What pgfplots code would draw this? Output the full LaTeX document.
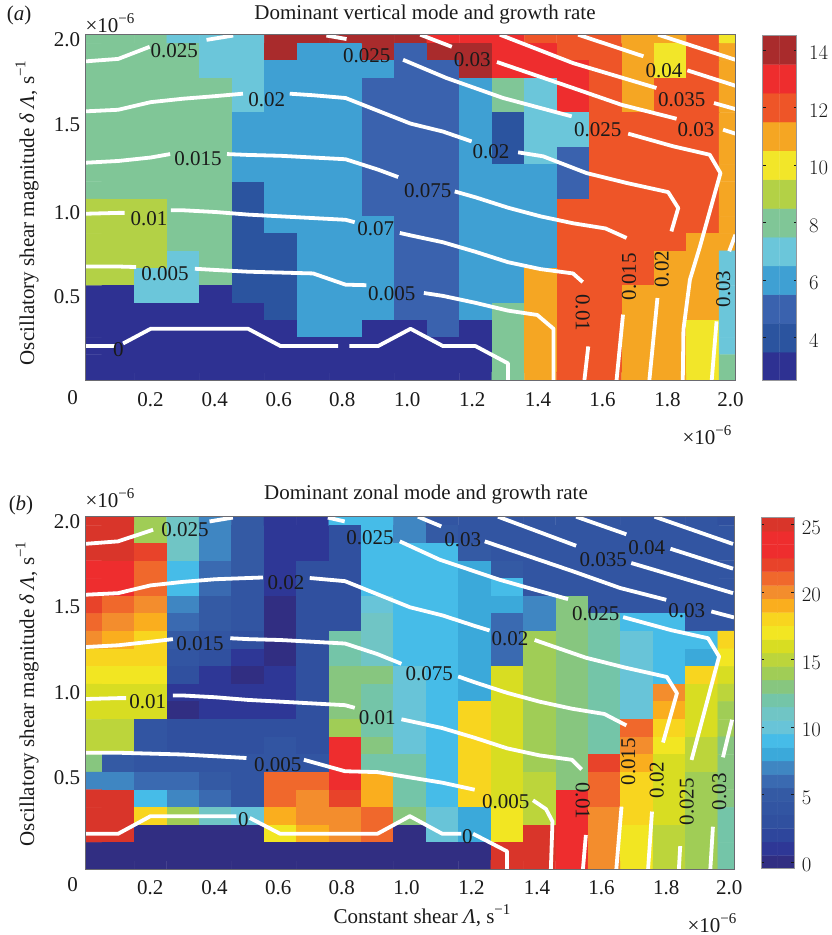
\documentclass[border=0pt]{standalone}
\usepackage{fontspec}
\setmainfont{Liberation Serif}
\usepackage{pgfplots}
\pgfplotsset{compat=1.18}
\newcommand\upp[1]{\raisebox{.42em}{\fontsize{15}{15}\selectfont #1}}
\newcommand\fs{\fontsize{21}{25}\selectfont}
\definecolor{txt}{HTML}{1A1A1A}
\definecolor{frm}{HTML}{6A6A70}
\pgfplotsset{
 colormap={mapa}{rgb255=(46,49,146) rgb255=(43,84,159) rgb255=(58,98,174) rgb255=(63,160,211) rgb255=(107,198,218) rgb255=(128,198,151) rgb255=(179,209,70) rgb255=(242,230,41) rgb255=(245,166,35) rgb255=(238,85,40) rgb255=(238,45,46) rgb255=(169,43,44)},
 colormap={mapb}{rgb255=(49,46,130) rgb255=(46,55,150) rgb255=(46,70,156) rgb255=(48,80,159) rgb255=(50,85,162) rgb255=(52,90,164) rgb255=(58,106,177) rgb255=(63,134,194) rgb255=(59,169,218) rgb255=(70,188,232) rgb255=(104,196,216) rgb255=(112,197,197) rgb255=(116,197,168) rgb255=(135,198,127) rgb255=(160,205,86) rgb255=(188,213,59) rgb255=(216,221,34) rgb255=(242,230,34) rgb255=(248,213,31) rgb255=(250,174,30) rgb255=(243,141,45) rgb255=(240,104,44) rgb255=(232,67,42) rgb255=(238,45,46) rgb255=(238,45,46) rgb255=(217,53,42)},
 cline/.style={white,line width=3.8pt,line join=round,forget plot,no markers},
 heat/.style={matrix plot*,point meta=explicit,mesh/ordering=y varies,mesh/rows=21,mesh/cols=21,forget plot},
 main/.style={scale only axis,xmin=0,xmax=2,ymin=0,ymax=2,axis on top,enlargelimits=false,
  axis line style={draw=frm,line width=.8pt},major tick length=0pt,colormap access=direct,
  tick label style={font=\fs,text=txt},
  xticklabel style={yshift=-8pt},yticklabel style={xshift=-2pt},
  xtick={.1995,.397,.594,.79,.99,1.19,1.392,1.591,1.791,1.985},
  xticklabels={0.2,0.4,0.6,0.8,1.0,1.2,1.4,1.6,1.8,2.0}},
 cbar/.style={scale only axis,xmin=0,xmax=1,axis on top,enlargelimits=false,
  axis line style={draw=frm!70,line width=1pt},xtick=\empty,ticklabel pos=right,
  tick style={draw=txt,line width=.8pt},major tick length=3pt,colormap access=direct,
  yticklabel style={font=\fs,text=txt,anchor=west,yshift=-3pt}}
}
\begin{document}
\begin{tikzpicture}
\path[use as bounding box] (0,0) rectangle (831pt,935pt);
% ---------------- panel a
\begin{axis}[main,colormap name=mapa,at={(85.7pt,554.3pt)},anchor=south west,width=649.7pt,height=346pt,
 ytick={1.971,1.48,.973,.487},yticklabels={2.0,1.5,1.0,0.5}]
\addplot[heat] coordinates {
(0,2)[5](0,1.9)[5](0,1.8)[5](0,1.7)[5](0,1.6)[5](0,1.5)[5](0,1.4)[5](0,1.3)[5](0,1.2)[5](0,1.1)[5](0,1)[6](0,.9)[6](0,.8)[6](0,.7)[6](0,.6)[6](0,.5)[0](0,.4)[0](0,.3)[0](0,.2)[0](0,.1)[0](0,0)[0]
(.1,2)[5](.1,1.9)[5](.1,1.8)[5](.1,1.7)[5](.1,1.6)[5](.1,1.5)[5](.1,1.4)[5](.1,1.3)[5](.1,1.2)[5](.1,1.1)[5](.1,1)[6](.1,.9)[6](.1,.8)[6](.1,.7)[6](.1,.6)[6](.1,.5)[0](.1,.4)[0](.1,.3)[0](.1,.2)[0](.1,.1)[0](.1,0)[0]
(.2,2)[5](.2,1.9)[5](.2,1.8)[5](.2,1.7)[5](.2,1.6)[5](.2,1.5)[5](.2,1.4)[5](.2,1.3)[5](.2,1.2)[5](.2,1.1)[5](.2,1)[6](.2,.9)[6](.2,.8)[6](.2,.7)[6](.2,.6)[4](.2,.5)[4](.2,.4)[0](.2,.3)[0](.2,.2)[0](.2,.1)[0](.2,0)[0]
(.3,2)[4](.3,1.9)[5](.3,1.8)[5](.3,1.7)[5](.3,1.6)[5](.3,1.5)[5](.3,1.4)[5](.3,1.3)[5](.3,1.2)[5](.3,1.1)[5](.3,1)[5](.3,.9)[5](.3,.8)[5](.3,.7)[4](.3,.6)[4](.3,.5)[4](.3,.4)[0](.3,.3)[0](.3,.2)[0](.3,.1)[0](.3,0)[0]
(.4,2)[4](.4,1.9)[4](.4,1.8)[4](.4,1.7)[5](.4,1.6)[5](.4,1.5)[5](.4,1.4)[5](.4,1.3)[5](.4,1.2)[5](.4,1.1)[5](.4,1)[5](.4,.9)[5](.4,.8)[5](.4,.7)[5](.4,.6)[5](.4,.5)[0](.4,.4)[0](.4,.3)[0](.4,.2)[0](.4,.1)[0](.4,0)[0]
(.5,2)[4](.5,1.9)[4](.5,1.8)[4](.5,1.7)[4](.5,1.6)[4](.5,1.5)[3](.5,1.4)[3](.5,1.3)[3](.5,1.2)[3](.5,1.1)[1](.5,1)[1](.5,.9)[1](.5,.8)[1](.5,.7)[1](.5,.6)[1](.5,.5)[1](.5,.4)[0](.5,.3)[0](.5,.2)[0](.5,.1)[0](.5,0)[0]
(.6,2)[11](.6,1.9)[11](.6,1.8)[3](.6,1.7)[3](.6,1.6)[3](.6,1.5)[3](.6,1.4)[3](.6,1.3)[3](.6,1.2)[3](.6,1.1)[3](.6,1)[3](.6,.9)[3](.6,.8)[1](.6,.7)[1](.6,.6)[1](.6,.5)[1](.6,.4)[1](.6,.3)[0](.6,.2)[0](.6,.1)[0](.6,0)[0]
(.7,2)[11](.7,1.9)[3](.7,1.8)[3](.7,1.7)[3](.7,1.6)[3](.7,1.5)[3](.7,1.4)[3](.7,1.3)[3](.7,1.2)[3](.7,1.1)[3](.7,1)[3](.7,.9)[3](.7,.8)[3](.7,.7)[3](.7,.6)[3](.7,.5)[3](.7,.4)[3](.7,.3)[3](.7,.2)[0](.7,.1)[0](.7,0)[0]
(.8,2)[11](.8,1.9)[3](.8,1.8)[3](.8,1.7)[3](.8,1.6)[3](.8,1.5)[3](.8,1.4)[3](.8,1.3)[3](.8,1.2)[3](.8,1.1)[3](.8,1)[3](.8,.9)[3](.8,.8)[3](.8,.7)[3](.8,.6)[3](.8,.5)[3](.8,.4)[3](.8,.3)[3](.8,.2)[0](.8,.1)[0](.8,0)[0]
(.9,2)[11](.9,1.9)[11](.9,1.8)[3](.9,1.7)[2](.9,1.6)[2](.9,1.5)[2](.9,1.4)[2](.9,1.3)[2](.9,1.2)[2](.9,1.1)[2](.9,1)[2](.9,.9)[3](.9,.8)[3](.9,.7)[3](.9,.6)[3](.9,.5)[3](.9,.4)[3](.9,.3)[0](.9,.2)[0](.9,.1)[0](.9,0)[0]
(1,2)[11](1,1.9)[2](1,1.8)[2](1,1.7)[2](1,1.6)[2](1,1.5)[2](1,1.4)[2](1,1.3)[2](1,1.2)[2](1,1.1)[2](1,1)[2](1,.9)[2](1,.8)[2](1,.7)[2](1,.6)[2](1,.5)[2](1,.4)[2](1,.3)[0](1,.2)[0](1,.1)[0](1,0)[0]
(1.1,2)[10](1.1,1.9)[11](1.1,1.8)[2](1.1,1.7)[2](1.1,1.6)[2](1.1,1.5)[2](1.1,1.4)[2](1.1,1.3)[2](1.1,1.2)[2](1.1,1.1)[2](1.1,1)[2](1.1,.9)[2](1.1,.8)[2](1.1,.7)[2](1.1,.6)[2](1.1,.5)[2](1.1,.4)[2](1.1,.3)[2](1.1,.2)[0](1.1,.1)[0](1.1,0)[0]
(1.2,2)[10](1.2,1.9)[11](1.2,1.8)[11](1.2,1.7)[3](1.2,1.6)[3](1.2,1.5)[3](1.2,1.4)[3](1.2,1.3)[3](1.2,1.2)[3](1.2,1.1)[3](1.2,1)[3](1.2,.9)[3](1.2,.8)[3](1.2,.7)[3](1.2,.6)[3](1.2,.5)[3](1.2,.4)[3](1.2,.3)[0](1.2,.2)[0](1.2,.1)[0](1.2,0)[0]
(1.3,2)[10](1.3,1.9)[10](1.3,1.8)[10](1.3,1.7)[5](1.3,1.6)[5](1.3,1.5)[1](1.3,1.4)[1](1.3,1.3)[1](1.3,1.2)[3](1.3,1.1)[3](1.3,1)[3](1.3,.9)[3](1.3,.8)[3](1.3,.7)[3](1.3,.6)[3](1.3,.5)[3](1.3,.4)[5](1.3,.3)[5](1.3,.2)[5](1.3,.1)[5](1.3,0)[5]
(1.4,2)[9](1.4,1.9)[10](1.4,1.8)[10](1.4,1.7)[4](1.4,1.6)[4](1.4,1.5)[4](1.4,1.4)[4](1.4,1.3)[4](1.4,1.2)[3](1.4,1.1)[3](1.4,1)[3](1.4,.9)[3](1.4,.8)[3](1.4,.7)[3](1.4,.6)[8](1.4,.5)[8](1.4,.4)[8](1.4,.3)[8](1.4,.2)[8](1.4,.1)[8](1.4,0)[8]
(1.5,2)[9](1.5,1.9)[9](1.5,1.8)[10](1.5,1.7)[10](1.5,1.6)[10](1.5,1.5)[4](1.5,1.4)[4](1.5,1.3)[2](1.5,1.2)[2](1.5,1.1)[2](1.5,1)[9](1.5,.9)[9](1.5,.8)[9](1.5,.7)[9](1.5,.6)[9](1.5,.5)[9](1.5,.4)[9](1.5,.3)[9](1.5,.2)[9](1.5,.1)[9](1.5,0)[9]
(1.6,2)[9](1.6,1.9)[9](1.6,1.8)[9](1.6,1.7)[9](1.6,1.6)[9](1.6,1.5)[9](1.6,1.4)[9](1.6,1.3)[9](1.6,1.2)[9](1.6,1.1)[9](1.6,1)[9](1.6,.9)[9](1.6,.8)[9](1.6,.7)[9](1.6,.6)[9](1.6,.5)[9](1.6,.4)[9](1.6,.3)[9](1.6,.2)[9](1.6,.1)[9](1.6,0)[9]
(1.7,2)[8](1.7,1.9)[8](1.7,1.8)[8](1.7,1.7)[8](1.7,1.6)[8](1.7,1.5)[9](1.7,1.4)[9](1.7,1.3)[9](1.7,1.2)[9](1.7,1.1)[9](1.7,1)[9](1.7,.9)[9](1.7,.8)[9](1.7,.7)[9](1.7,.6)[9](1.7,.5)[8](1.7,.4)[8](1.7,.3)[8](1.7,.2)[8](1.7,.1)[8](1.7,0)[8]
(1.8,2)[8](1.8,1.9)[7](1.8,1.8)[7](1.8,1.7)[9](1.8,1.6)[9](1.8,1.5)[9](1.8,1.4)[9](1.8,1.3)[9](1.8,1.2)[9](1.8,1.1)[9](1.8,1)[9](1.8,.9)[9](1.8,.8)[9](1.8,.7)[8](1.8,.6)[8](1.8,.5)[8](1.8,.4)[8](1.8,.3)[8](1.8,.2)[8](1.8,.1)[8](1.8,0)[8]
(1.9,2)[9](1.9,1.9)[9](1.9,1.8)[9](1.9,1.7)[9](1.9,1.6)[9](1.9,1.5)[9](1.9,1.4)[9](1.9,1.3)[9](1.9,1.2)[9](1.9,1.1)[9](1.9,1)[9](1.9,.9)[9](1.9,.8)[8](1.9,.7)[8](1.9,.6)[8](1.9,.5)[8](1.9,.4)[8](1.9,.3)[7](1.9,.2)[7](1.9,.1)[7](1.9,0)[7]
(2,2)[7](2,1.9)[8](2,1.8)[8](2,1.7)[8](2,1.6)[8](2,1.5)[8](2,1.4)[8](2,1.3)[8](2,1.2)[8](2,1.1)[8](2,1)[8](2,.9)[8](2,.8)[8](2,.7)[4](2,.6)[4](2,.5)[4](2,.4)[4](2,.3)[4](2,.2)[4](2,.1)[5](2,0)[5]
};
\addplot[cline] coordinates {(0,.2)(.09,.2)};
\addplot[cline] coordinates {(.115,.215)(.2,.3)(.5,.3)(.6,.2)(.777,.2)};
\addplot[cline] coordinates {(.812,.2)(.9,.2)(1,.3)(1.1,.2)(1.2,.2)(1.3,.1)(1.3,0)};
\addplot[cline] coordinates {(0,.66)(.1,.66)(.155,.657)};
\addplot[cline] coordinates {(.336,.647)(.4,.64)(.5,.63)(.6,.625)(.7,.62)(.8,.555)(.864,.552)};
\addplot[cline] coordinates {(1.041,.507)(1.1,.49)(1.2,.45)(1.3,.405)(1.39,.38)(1.44,.3)(1.44,0)};
\addplot[cline] coordinates {(0,.965)(.1,.97)(.12,.97)};
\addplot[cline] coordinates {(.262,.985)(.3,.985)(.4,.975)(.5,.96)(.6,.95)(.7,.94)(.8,.93)(.828,.916)};
\addplot[cline] coordinates {(.967,.854)(1,.84)(1.1,.8)(1.2,.745)(1.3,.685)(1.4,.645)(1.5,.62)(1.53,.57)};
\addplot[cline] coordinates {(1.547,.198)(1.535,0)};
\addplot[cline] coordinates {(0,1.26)(.1,1.27)(.2,1.29)(.26,1.31)};
\addplot[cline] coordinates {(.435,1.31)(.5,1.305)(.6,1.3)(.7,1.29)(.8,1.28)(.9,1.22)(.962,1.177)};
\addplot[cline] coordinates {(1.136,1.094)(1.2,1.06)(1.3,1)(1.4,.95)(1.5,.91)(1.6,.88)(1.665,.825)};
\addplot[cline] coordinates {(1.654,.382)(1.634,0)};
\addplot[cline] coordinates {(0,1.557)(.1,1.566)(.2,1.61)(.3,1.63)(.4,1.645)(.484,1.659)};
\addplot[cline] coordinates {(.628,1.659)(.7,1.65)(.8,1.634)(.9,1.56)(1,1.486)(1.1,1.44)(1.188,1.383)};
\addplot[cline] coordinates {(1.331,1.32)(1.408,1.297)(1.542,1.2)(1.665,1.143)(1.793,1.09)(1.824,.998)(1.803,.863)};
\addplot[cline] coordinates {(1.76,.478)(1.735,0)};
\addplot[cline] coordinates {(0,1.846)(.1,1.86)(.197,1.93)};
\addplot[cline] coordinates {(.372,1.97)(.454,1.995)};
\addplot[cline] coordinates {(.741,1.995)(.803,1.975)};
\addplot[cline] coordinates {(.977,1.855)(1.11,1.75)(1.285,1.634)(1.496,1.528)};
\addplot[cline] coordinates {(1.67,1.428)(1.808,1.355)(1.921,1.306)(1.954,1.2)(1.891,.776)(1.86,.584)(1.84,.295)(1.838,0)};
\addplot[cline] coordinates {(1.03,2)(1.127,1.93)};
\addplot[cline] coordinates {(1.266,1.842)(1.5,1.692)(1.649,1.595)(1.819,1.514)};
\addplot[cline] coordinates {(1.962,1.451)(2,1.428)};
\addplot[cline] coordinates {(2,.844)(1.981,.748)};
\addplot[cline] coordinates {(1.942,.343)(1.927,0)};
\addplot[cline] coordinates {(1.275,2)(1.5,1.836)(1.757,1.692)};
\addplot[cline] coordinates {(1.934,1.605)(2,1.57)};
\addplot[cline] coordinates {(1.516,2)(1.717,1.875)};
\addplot[cline] coordinates {(1.852,1.794)(2,1.705)};
\addplot[cline] coordinates {(1.762,2)(2,1.855)};
\end{axis}
\begin{axis}[cbar,colormap name=mapa,at={(762.7pt,554pt)},anchor=south west,width=34pt,height=345.3pt,
 ymin=2.5,ymax=14.5,ytick={4,6,8,10,12,14},yticklabel style={xshift=9pt}]
\addplot[matrix plot*,point meta=explicit,mesh/cols=2,forget plot] coordinates {
(0,3)[0](1,3)[0](0,4)[1](1,4)[1](0,5)[2](1,5)[2](0,6)[3](1,6)[3](0,7)[4](1,7)[4](0,8)[5](1,8)[5](0,9)[6](1,9)[6](0,10)[7](1,10)[7](0,11)[8](1,11)[8](0,12)[9](1,12)[9](0,13)[10](1,13)[10](0,14)[11](1,14)[11]};
\end{axis}
% ---------------- panel b
\begin{axis}[main,colormap name=mapb,at={(85.7pt,66pt)},anchor=south west,width=648.3pt,height=352.3pt,
 ytick={1.973,1.49,1,.517},yticklabels={2.0,1.5,1.0,0.5}]
\addplot[heat] coordinates {
(0,2)[25](0,1.9)[25](0,1.8)[25](0,1.7)[24](0,1.6)[24](0,1.5)[22](0,1.4)[21](0,1.3)[20](0,1.2)[18](0,1.1)[17](0,1)[16](0,.9)[16](0,.8)[15](0,.7)[15](0,.6)[13](0,.5)[7](0,.4)[25](0,.3)[25](0,.2)[25](0,.1)[0](0,0)[0]
(.1,2)[25](.1,1.9)[25](.1,1.8)[25](.1,1.7)[24](.1,1.6)[24](.1,1.5)[21](.1,1.4)[20](.1,1.3)[19](.1,1.2)[18](.1,1.1)[17](.1,1)[16](.1,.9)[16](.1,.8)[15](.1,.7)[15](.1,.6)[5](.1,.5)[7](.1,.4)[25](.1,.3)[25](.1,.2)[25](.1,.1)[0](.1,0)[0]
(.2,2)[14](.2,1.9)[14](.2,1.8)[22](.2,1.7)[21](.2,1.6)[21](.2,1.5)[20](.2,1.4)[19](.2,1.3)[18](.2,1.2)[18](.2,1.1)[17](.2,1)[16](.2,.9)[16](.2,.8)[4](.2,.7)[4](.2,.6)[4](.2,.5)[6](.2,.4)[9](.2,.3)[18](.2,.2)[0](.2,.1)[0](.2,0)[0]
(.3,2)[11](.3,1.9)[11](.3,1.8)[11](.3,1.7)[9](.3,1.6)[9](.3,1.5)[7](.3,1.4)[6](.3,1.3)[5](.3,1.2)[4](.3,1.1)[3](.3,1)[1](.3,.9)[0](.3,.8)[3](.3,.7)[3](.3,.6)[4](.3,.5)[6](.3,.4)[7](.3,.3)[14](.3,.2)[0](.3,.1)[0](.3,0)[0]
(.4,2)[7](.4,1.9)[7](.4,1.8)[7](.4,1.7)[6](.4,1.6)[6](.4,1.5)[5](.4,1.4)[5](.4,1.3)[4](.4,1.2)[3](.4,1.1)[1](.4,1)[1](.4,.9)[1](.4,.8)[3](.4,.7)[3](.4,.6)[4](.4,.5)[5](.4,.4)[6](.4,.3)[11](.4,.2)[0](.4,.1)[0](.4,0)[0]
(.5,2)[5](.5,1.9)[5](.5,1.8)[5](.5,1.7)[5](.5,1.6)[4](.5,1.5)[4](.5,1.4)[4](.5,1.3)[3](.5,1.2)[1](.5,1.1)[0](.5,1)[1](.5,.9)[1](.5,.8)[3](.5,.7)[3](.5,.6)[4](.5,.5)[4](.5,.4)[4](.5,.3)[10](.5,.2)[0](.5,.1)[0](.5,0)[0]
(.6,2)[1](.6,1.9)[1](.6,1.8)[1](.6,1.7)[1](.6,1.6)[1](.6,1.5)[0](.6,1.4)[0](.6,1.3)[0](.6,1.2)[0](.6,1.1)[1](.6,1)[1](.6,.9)[1](.6,.8)[3](.6,.7)[4](.6,.6)[4](.6,.5)[21](.6,.4)[21](.6,.3)[19](.6,.2)[17](.6,.1)[0](.6,0)[0]
(.7,2)[1](.7,1.9)[1](.7,1.8)[1](.7,1.7)[3](.7,1.6)[3](.7,1.5)[3](.7,1.4)[3](.7,1.3)[3](.7,1.2)[3](.7,1.1)[3](.7,1)[3](.7,.9)[3](.7,.8)[3](.7,.7)[3](.7,.6)[4](.7,.5)[21](.7,.4)[20](.7,.3)[20](.7,.2)[19](.7,.1)[0](.7,0)[0]
(.8,2)[9](.8,1.9)[3](.8,1.8)[3](.8,1.7)[3](.8,1.6)[3](.8,1.5)[3](.8,1.4)[3](.8,1.3)[12](.8,1.2)[12](.8,1.1)[13](.8,1)[13](.8,.9)[13](.8,.8)[14](.8,.7)[23](.8,.6)[23](.8,.5)[23](.8,.4)[22](.8,.3)[20](.8,.2)[20](.8,.1)[0](.8,0)[0]
(.9,2)[9](.9,1.9)[9](.9,1.8)[9](.9,1.7)[9](.9,1.6)[9](.9,1.5)[10](.9,1.4)[11](.9,1.3)[11](.9,1.2)[11](.9,1.1)[13](.9,1)[12](.9,.9)[12](.9,.8)[12](.9,.7)[13](.9,.6)[12](.9,.5)[19](.9,.4)[19](.9,.3)[21](.9,.2)[21](.9,.1)[0](.9,0)[0]
(1,2)[7](1,1.9)[7](1,1.8)[9](1,1.7)[9](1,1.6)[9](1,1.5)[9](1,1.4)[9](1,1.3)[9](1,1.2)[9](1,1.1)[10](1,1)[10](1,.9)[10](1,.8)[10](1,.7)[10](1,.6)[12](1,.5)[12](1,.4)[12](1,.3)[13](1,.2)[0](1,.1)[0](1,0)[0]
(1.1,2)[4](1.1,1.9)[5](1.1,1.8)[9](1.1,1.7)[9](1.1,1.6)[9](1.1,1.5)[9](1.1,1.4)[9](1.1,1.3)[9](1.1,1.2)[9](1.1,1.1)[9](1.1,1)[9](1.1,.9)[9](1.1,.8)[9](1.1,.7)[9](1.1,.6)[9](1.1,.5)[9](1.1,.4)[9](1.1,.3)[10](1.1,.2)[10](1.1,.1)[0](1.1,0)[0]
(1.2,2)[4](1.2,1.9)[4](1.2,1.8)[5](1.2,1.7)[8](1.2,1.6)[8](1.2,1.5)[8](1.2,1.4)[8](1.2,1.3)[8](1.2,1.2)[8](1.2,1.1)[8](1.2,1)[8](1.2,.9)[18](1.2,.8)[18](1.2,.7)[18](1.2,.6)[18](1.2,.5)[18](1.2,.4)[18](1.2,.3)[8](1.2,.2)[8](1.2,.1)[0](1.2,0)[0]
(1.3,2)[4](1.3,1.9)[4](1.3,1.8)[4](1.3,1.7)[5](1.3,1.6)[9](1.3,1.5)[8](1.3,1.4)[6](1.3,1.3)[6](1.3,1.2)[6](1.3,1.1)[16](1.3,1)[16](1.3,.9)[16](1.3,.8)[16](1.3,.7)[16](1.3,.6)[16](1.3,.5)[16](1.3,.4)[16](1.3,.3)[17](1.3,.2)[17](1.3,.1)[25](1.3,0)[25]
(1.4,2)[4](1.4,1.9)[4](1.4,1.8)[4](1.4,1.7)[4](1.4,1.6)[4](1.4,1.5)[7](1.4,1.4)[7](1.4,1.3)[14](1.4,1.2)[14](1.4,1.1)[14](1.4,1)[14](1.4,.9)[14](1.4,.8)[14](1.4,.7)[14](1.4,.6)[14](1.4,.5)[15](1.4,.4)[15](1.4,.3)[15](1.4,.2)[25](1.4,.1)[25](1.4,0)[25]
(1.5,2)[4](1.5,1.9)[4](1.5,1.8)[4](1.5,1.7)[4](1.5,1.6)[4](1.5,1.5)[13](1.5,1.4)[13](1.5,1.3)[13](1.5,1.2)[13](1.5,1.1)[13](1.5,1)[13](1.5,.9)[13](1.5,.8)[13](1.5,.7)[13](1.5,.6)[13](1.5,.5)[13](1.5,.4)[23](1.5,.3)[23](1.5,.2)[23](1.5,.1)[23](1.5,0)[23]
(1.6,2)[4](1.6,1.9)[4](1.6,1.8)[4](1.6,1.7)[4](1.6,1.6)[4](1.6,1.5)[4](1.6,1.4)[12](1.6,1.3)[12](1.6,1.2)[12](1.6,1.1)[12](1.6,1)[12](1.6,.9)[12](1.6,.8)[12](1.6,.7)[12](1.6,.6)[22](1.6,.5)[21](1.6,.4)[21](1.6,.3)[20](1.6,.2)[20](1.6,.1)[20](1.6,0)[20]
(1.7,2)[4](1.7,1.9)[4](1.7,1.8)[4](1.7,1.7)[4](1.7,1.6)[4](1.7,1.5)[4](1.7,1.4)[9](1.7,1.3)[10](1.7,1.2)[10](1.7,1.1)[10](1.7,1)[10](1.7,.9)[10](1.7,.8)[21](1.7,.7)[20](1.7,.6)[19](1.7,.5)[18](1.7,.4)[18](1.7,.3)[18](1.7,.2)[17](1.7,.1)[17](1.7,0)[17]
(1.8,2)[4](1.8,1.9)[4](1.8,1.8)[4](1.8,1.7)[4](1.8,1.6)[4](1.8,1.5)[4](1.8,1.4)[9](1.8,1.3)[9](1.8,1.2)[9](1.8,1.1)[9](1.8,1)[20](1.8,.9)[19](1.8,.8)[18](1.8,.7)[17](1.8,.6)[16](1.8,.5)[16](1.8,.4)[16](1.8,.3)[16](1.8,.2)[15](1.8,.1)[15](1.8,0)[15]
(1.9,2)[4](1.9,1.9)[4](1.9,1.8)[4](1.9,1.7)[4](1.9,1.6)[4](1.9,1.5)[4](1.9,1.4)[4](1.9,1.3)[9](1.9,1.2)[8](1.9,1.1)[18](1.9,1)[16](1.9,.9)[16](1.9,.8)[16](1.9,.7)[15](1.9,.6)[15](1.9,.5)[14](1.9,.4)[14](1.9,.3)[14](1.9,.2)[14](1.9,.1)[14](1.9,0)[14]
(2,2)[3](2,1.9)[4](2,1.8)[4](2,1.7)[4](2,1.6)[4](2,1.5)[4](2,1.4)[4](2,1.3)[18](2,1.2)[17](2,1.1)[16](2,1)[15](2,.9)[14](2,.8)[14](2,.7)[13](2,.6)[13](2,.5)[13](2,.4)[13](2,.3)[12](2,.2)[12](2,.1)[12](2,0)[12]
};
\addplot[cline] coordinates {(0,.2)(.1,.2)(.2,.3)(.465,.3)};
\addplot[cline] coordinates {(.506,.29)(.6,.2)(.9,.2)(1,.3)(1.1,.2)(1.159,.2)};
\addplot[cline] coordinates {(1.195,.2)(1.3,.1)(1.3,0)};
\addplot[cline] coordinates {(0,.66)(.1,.66)(.2,.655)(.3,.65)(.4,.64)(.496,.63)};
\addplot[cline] coordinates {(.673,.62)(.8,.555)(.9,.55)(1,.52)(1.1,.49)(1.2,.45)};
\addplot[cline] coordinates {(1.38,.39)(1.42,.34)(1.44,.27)(1.435,0)};
\addplot[cline] coordinates {(0,.965)(.1,.97)(.125,.97)};
\addplot[cline] coordinates {(.269,.985)(.3,.985)(.4,.975)(.5,.96)(.6,.95)(.7,.94)(.8,.93)(.83,.915)};
\addplot[cline] coordinates {(.974,.85)(1.1,.8)(1.2,.745)(1.3,.685)(1.4,.645)(1.5,.62)(1.53,.565)};
\addplot[cline] coordinates {(1.543,.193)(1.534,0)};
\addplot[cline] coordinates {(0,1.26)(.1,1.27)(.2,1.29)(.269,1.305)};
\addplot[cline] coordinates {(.446,1.31)(.5,1.305)(.6,1.3)(.7,1.29)(.8,1.28)(.9,1.22)(.974,1.165)};
\addplot[cline] coordinates {(1.149,1.093)(1.2,1.06)(1.3,1)(1.4,.95)(1.5,.91)(1.6,.88)(1.668,.815)};
\addplot[cline] coordinates {(1.653,.354)(1.637,0)};
\addplot[cline] coordinates {(0,1.557)(.1,1.566)(.2,1.61)(.3,1.63)(.4,1.645)(.547,1.655)};
\addplot[cline] coordinates {(.691,1.652)(.8,1.634)(.9,1.56)(1,1.486)(1.1,1.44)(1.2,1.38)(1.246,1.354)};
\addplot[cline] coordinates {(1.385,1.3)(1.542,1.2)(1.665,1.143)(1.793,1.09)(1.824,.998)(1.781,.718)};
\addplot[cline] coordinates {(1.747,.326)(1.735,0)};
\addplot[cline] coordinates {(0,1.846)(.1,1.86)(.208,1.926)};
\addplot[cline] coordinates {(.382,1.973)(.454,1.995)};
\addplot[cline] coordinates {(.747,1.995)(.799,1.973)};
\addplot[cline] coordinates {(.969,1.86)(1.092,1.756)(1.277,1.642)(1.488,1.532)};
\addplot[cline] coordinates {(1.658,1.43)(1.808,1.355)(1.92,1.31)(1.954,1.206)(1.869,.619)};
\addplot[cline] coordinates {(1.834,.13)(1.83,0)};
\addplot[cline] coordinates {(1.025,2)(1.097,1.945)};
\addplot[cline] coordinates {(1.231,1.86)(1.5,1.692)(1.649,1.595)(1.791,1.528)};
\addplot[cline] coordinates {(1.93,1.462)(2,1.428)};
\addplot[cline] coordinates {(1.994,.847)(1.966,.634)};
\addplot[cline] coordinates {(1.935,.24)(1.927,0)};
\addplot[cline] coordinates {(1.272,2)(1.513,1.835)};
\addplot[cline] coordinates {(1.683,1.737)(1.997,1.566)};
\addplot[cline] coordinates {(1.513,2)(1.668,1.9)};
\addplot[cline] coordinates {(1.804,1.818)(1.997,1.705)};
\addplot[cline] coordinates {(1.755,2)(1.997,1.845)};
\end{axis}
\begin{axis}[cbar,colormap name=mapb,at={(761pt,66pt)},anchor=south west,width=33.3pt,height=351.3pt,
 ymin=-.5,ymax=25.5,ytick={0,5,10,15,20,25},yticklabel style={xshift=4pt}]
\addplot[matrix plot*,point meta=explicit,mesh/cols=2,forget plot] coordinates {
(0,0)[0](1,0)[0](0,1)[1](1,1)[1](0,2)[2](1,2)[2](0,3)[3](1,3)[3](0,4)[4](1,4)[4](0,5)[5](1,5)[5](0,6)[6](1,6)[6](0,7)[7](1,7)[7](0,8)[8](1,8)[8](0,9)[9](1,9)[9](0,10)[10](1,10)[10](0,11)[11](1,11)[11](0,12)[12](1,12)[12](0,13)[13](1,13)[13](0,14)[14](1,14)[14](0,15)[15](1,15)[15](0,16)[16](1,16)[16](0,17)[17](1,17)[17](0,18)[18](1,18)[18](0,19)[19](1,19)[19](0,20)[20](1,20)[20](0,21)[21](1,21)[21](0,22)[22](1,22)[22](0,23)[23](1,23)[23](0,24)[24](1,24)[24](0,25)[25](1,25)[25]};
\end{axis}
% ---------------- texts, in picture pixels
\begin{scope}[yshift=935pt,x=1pt,y=-1pt,every node/.style={font=\fs,text=txt,inner sep=0pt}]
\node at (19,15) {(\textit{a})};
\node at (21,505) {(\textit{b})};
\node at (425,14) {Dominant vertical mode and growth rate};
\node at (426,494) {Dominant zonal mode and growth rate};
\node at (110,23) {×10\upp{−6}};
\node at (110,498) {×10\upp{−6}};
\node at (707,435) {×10\upp{−6}};
\node at (712,923) {×10\upp{−6}};
\node at (72.7,398) {0};
\node at (72.7,885) {0};
\node at (422,916) {Constant shear \textit{Λ}, s\upp{−1}};
\node[rotate=90] at (27,213) {Oscillatory shear magnitude \textit{δ Λ}, s\upp{−1}};
\node[rotate=90] at (27,694) {Oscillatory shear magnitude \textit{δ Λ}, s\upp{−1}};
% panel a contour labels
\node at (174.3,50.7) {0.025};
\node at (266.7,99.3) {0.02};
\node at (198,159) {0.015};
\node at (149,218.3) {0.01};
\node at (375.7,229) {0.07};
\node at (165,273.3) {0.005};
\node at (391.7,294) {0.005};
\node at (118.3,350) {0};
\node at (366.7,56) {0.025};
\node at (472.3,60) {0.03};
\node at (597.7,130) {0.025};
\node at (696,130) {0.03};
\node at (681.7,100) {0.035};
\node at (664,71) {0.04};
\node at (491,151.7) {0.02};
\node at (427.7,191) {0.075};
\node[rotate=-90] at (582.7,312.7) {0.01};
\node[rotate=90] at (629,276.7) {0.015};
\node[rotate=90] at (661.7,269.3) {0.02};
\node[rotate=90] at (723.3,289) {0.03};
% panel b contour labels
\node at (185,530) {0.025};
\node at (286,582.3) {0.02};
\node at (200,643.3) {0.015};
\node at (147.7,701.7) {0.01};
\node at (377.3,717.3) {0.01};
\node at (277.7,765) {0.005};
\node at (243.3,819.3) {0};
\node at (370,537.3) {0.025};
\node at (462.7,539.3) {0.03};
\node at (603.3,559.3) {0.035};
\node at (646.7,547.3) {0.04};
\node at (686.7,610.7) {0.03};
\node at (595.7,613.3) {0.025};
\node at (510,639) {0.02};
\node at (429.3,674) {0.075};
\node at (505.7,801.7) {0.005};
\node at (467.3,836.7) {0};
\node[rotate=-90] at (582.7,800.7) {0.01};
\node[rotate=90] at (628.3,761.7) {0.015};
\node[rotate=90] at (656.7,780) {0.02};
\node[rotate=90] at (686.7,801.7) {0.025};
\node[rotate=90] at (719.3,791.7) {0.03};
\end{scope}
\end{tikzpicture}
\end{document}
